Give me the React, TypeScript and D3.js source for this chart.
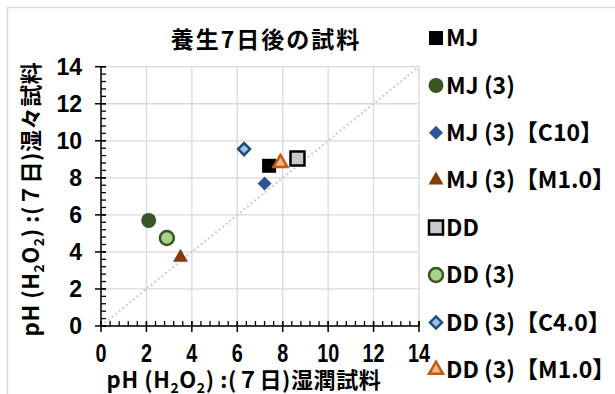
import * as d3 from 'd3';
import React from 'react';

// series names and their (x, y) values
const seriesNames = [
  'MJ',
  'MJ (3)',
  'MJ (3)【C10】',
  'MJ (3)【M1.0】',
  'DD',
  'DD (3)',
  'DD (3)【C4.0】',
  'DD (3)【M1.0】',
];
const xValues = [7.4, 2.1, 7.2, 3.5, 8.65, 2.9, 6.3, 7.9];
const yValues = [8.65, 5.7, 7.7, 3.7, 9.05, 4.75, 9.55, 8.8];
const axisTicks = [0, 2, 4, 6, 8, 10, 12, 14];
const xTitleTail = ') :(７日)湿潤試料';
const yTitleTail = ') :(７日)湿々試料';

type MarkerStyle = { shape: string; fill: string; stroke: string; sw: number; size: number };
const markerStyles: MarkerStyle[] = [
  { shape: 'square', fill: '#000000', stroke: '#000000', sw: 0, size: 14 },
  { shape: 'circle', fill: '#375623', stroke: '#375623', sw: 0, size: 15 },
  { shape: 'diamond', fill: '#2f5597', stroke: '#2f5597', sw: 0, size: 14 },
  { shape: 'triangle', fill: '#843c0c', stroke: '#843c0c', sw: 0, size: 15 },
  { shape: 'square', fill: '#c9c9c9', stroke: '#000000', sw: 2.5, size: 14 },
  { shape: 'circle', fill: '#a9d18e', stroke: '#375623', sw: 2.5, size: 14 },
  { shape: 'diamond', fill: '#9dc3e6', stroke: '#1f4e79', sw: 2.5, size: 12 },
  { shape: 'triangle', fill: '#f4b183', stroke: '#c55a11', sw: 2.5, size: 14 },
];

const FONT = "'Noto Sans CJK JP', 'Liberation Sans', sans-serif";
const NUM_FONT = "'Liberation Sans', sans-serif";

function markerPath(m: MarkerStyle): { d: string; rot: number } {
  if (m.shape === 'square') return { d: d3.symbol(d3.symbolSquare, m.size * m.size)() || '', rot: 0 };
  if (m.shape === 'circle') return { d: d3.symbol(d3.symbolCircle, Math.PI * (m.size / 2) ** 2)() || '', rot: 0 };
  if (m.shape === 'diamond') return { d: d3.symbol(d3.symbolSquare, (m.size * m.size) / 2)() || '', rot: 45 };
  return { d: d3.symbol(d3.symbolTriangle, (m.size * m.size * Math.sqrt(3)) / 4)() || '', rot: 0 };
}

function Marker({ m, x, y }: { m: MarkerStyle; x: number; y: number }) {
  const p = markerPath(m);
  return (
    <path
      d={p.d}
      transform={`translate(${x},${y}) rotate(${p.rot})`}
      fill={m.fill}
      stroke={m.stroke}
      strokeWidth={m.sw}
    />
  );
}

function AxisTitle({ x, y, rotate, tail }: { x: number; y: number; rotate?: number; tail: string }) {
  return (
    <text
      x={0}
      y={0}
      transform={`translate(${x},${y}) rotate(${rotate || 0})`}
      textAnchor="middle"
      fontFamily={FONT}
      fontWeight={700}
      fontSize={22}
      letterSpacing={0.6}
      fill="#000"
    >
      pH (H<tspan fontSize={14} dy={5}>2</tspan>
      <tspan dy={-5}>O</tspan>
      <tspan fontSize={14} dy={5}>2</tspan>
      <tspan dy={-5}>{tail}</tspan>
    </text>
  );
}

export default function App() {
  const width = 615;
  const height = 394;
  const plot = { left: 101, right: 419, top: 66.7, bottom: 326 };

  const x = d3.scaleLinear().domain([0, 14]).range([plot.left, plot.right]);
  const y = d3.scaleLinear().domain([0, 14]).range([plot.bottom, plot.top]);
  const minorTicks = d3.range(0, 14.001, 0.4);

  const legendX = 436;
  const legendY0 = 38;
  const legendStep = 47.4;

  return (
    <svg width={width} height={height} style={{ position: 'absolute', left: 0, top: 0 }}>
      <rect x={0} y={0} width={width} height={height} fill="#fff" />
      <rect x={7.5} y={7.5} width={700} height={500} fill="#fff" stroke="#d9d9d9" strokeWidth={1.5} />

      <text
        x={266}
        y={48}
        textAnchor="middle"
        fontFamily={FONT}
        fontWeight={700}
        fontSize={23}
        letterSpacing={2}
      >
        養生7日後の試料
      </text>

      {/* grid */}
      {axisTicks.map((t) => (
        <g key={'g' + t}>
          <line x1={x(t)} x2={x(t)} y1={plot.top} y2={plot.bottom} stroke="#d9d9d9" strokeWidth={1.3} />
          <line x1={plot.left} x2={plot.right} y1={y(t)} y2={y(t)} stroke="#d9d9d9" strokeWidth={1.3} />
        </g>
      ))}

      {/* 1:1 line */}
      <line
        x1={x(0)}
        y1={y(0)}
        x2={x(14)}
        y2={y(14)}
        stroke="#cfcfcf"
        strokeWidth={2.2}
        strokeDasharray="2 2.6"
      />

      {/* axes */}
      <line x1={plot.left} x2={plot.left} y1={plot.top} y2={plot.bottom} stroke="#000" strokeWidth={1.5} />
      <line x1={plot.left} x2={plot.right} y1={plot.bottom} y2={plot.bottom} stroke="#000" strokeWidth={1.5} />
      {minorTicks.map((t, i) => (
        <g key={'m' + i}>
          <line x1={plot.left} x2={plot.left + 5} y1={y(t)} y2={y(t)} stroke="#000" strokeWidth={1.3} />
          <line x1={x(t)} x2={x(t)} y1={plot.bottom} y2={plot.bottom - 5} stroke="#000" strokeWidth={1.3} />
        </g>
      ))}
      {axisTicks.map((t) => (
        <g key={'t' + t}>
          <line x1={plot.left - 6} x2={plot.left + 5} y1={y(t)} y2={y(t)} stroke="#000" strokeWidth={1.5} />
          <line x1={x(t)} x2={x(t)} y1={plot.bottom - 5} y2={plot.bottom + 6} stroke="#000" strokeWidth={1.5} />
          <text
            x={82}
            y={y(t)}
            dy="0.36em"
            textAnchor="end"
            fontFamily={NUM_FONT}
            fontWeight={700}
            fontSize={23}
          >
            {t}
          </text>
          <text
            x={0}
            y={0}
            transform={`translate(${x(t)},${362}) scale(0.9,1.2)`}
            textAnchor="middle"
            fontFamily={NUM_FONT}
            fontWeight={700}
            fontSize={22}
          >
            {t}
          </text>
        </g>
      ))}

      <AxisTitle x={244} y={388} tail={xTitleTail} />
      <AxisTitle x={39} y={199} rotate={-90} tail={yTitleTail} />

      {/* points */}
      {seriesNames.map((name, i) => (
        <Marker key={'p' + name} m={markerStyles[i]} x={x(xValues[i])} y={y(yValues[i])} />
      ))}

      {/* legend */}
      {seriesNames.map((name, i) => (
        <g key={'l' + name} transform={`translate(${legendX},${legendY0 + i * legendStep})`}>
          <Marker m={markerStyles[i]} x={0} y={0} />
          <text x={10} y={0} dy="0.36em" fontFamily={FONT} fontWeight={700} fontSize={23}>
            {name}
          </text>
        </g>
      ))}
    </svg>
  );
}
